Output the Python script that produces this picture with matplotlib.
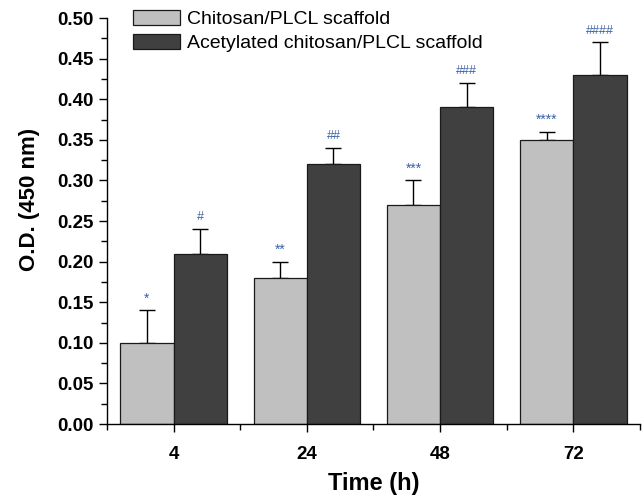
import numpy as np
import matplotlib
matplotlib.use("Agg")
import matplotlib.pyplot as plt
from matplotlib.ticker import MultipleLocator, FormatStrFormatter

# data
times = ["4", "24", "48", "72"]
chitosan = [0.10, 0.18, 0.27, 0.35]
chitosan_err = [0.04, 0.02, 0.03, 0.01]
acetylated = [0.21, 0.32, 0.39, 0.43]
acetylated_err = [0.03, 0.02, 0.03, 0.04]
chitosan_marks = ["*", "**", "***", "****"]
acetylated_marks = ["#", "##", "###", "####"]

fam = ["Liberation Sans", "DejaVu Sans"]

fig = plt.figure(figsize=(6.42, 4.96), dpi=100)
ax = fig.add_axes([0.1667, 0.145, 0.83, 0.8187])

x = np.arange(len(times))
w = 0.4
ax.bar(x - w / 2, chitosan, w, color="#c0c0c0", edgecolor="#1a1a1a", linewidth=0.9,
       label="Chitosan/PLCL scaffold", zorder=2)
ax.bar(x + w / 2, acetylated, w, color="#404040", edgecolor="#1a1a1a", linewidth=0.9,
       label="Acetylated chitosan/PLCL scaffold", zorder=2)
ax.errorbar(x - w / 2, chitosan, yerr=[np.zeros(4), chitosan_err], fmt="none",
            ecolor="black", elinewidth=1, capsize=6, capthick=1, zorder=1)
ax.errorbar(x + w / 2, acetylated, yerr=[np.zeros(4), acetylated_err], fmt="none",
            ecolor="black", elinewidth=1, capsize=6, capthick=1, zorder=1)

for i in range(len(times)):
    ax.text(x[i] - w / 2, chitosan[i] + chitosan_err[i] + 0.006, chitosan_marks[i],
            ha="center", va="bottom", fontsize=10, color="#3a62a8", family=fam)
    ax.text(x[i] + w / 2, acetylated[i] + acetylated_err[i] + 0.007, acetylated_marks[i],
            ha="center", va="bottom", fontsize=9, color="#3a62a8", family=fam)

ax.set_xlim(-0.5, 3.5)
ax.set_ylim(0, 0.5)
ax.set_xticks(x)
ax.set_xticklabels(times)
ax.xaxis.set_minor_locator(MultipleLocator(1, offset=0.5))
ax.yaxis.set_major_locator(MultipleLocator(0.05))
ax.yaxis.set_minor_locator(MultipleLocator(0.025))
ax.yaxis.set_major_formatter(FormatStrFormatter("%.2f"))

for s in ["top", "right"]:
    ax.spines[s].set_visible(False)
ax.spines["left"].set_linewidth(1.0)
ax.spines["bottom"].set_linewidth(1.0)
ax.tick_params(which="major", direction="out", length=6, width=1)
ax.tick_params(which="minor", direction="out", length=4, width=1)
ax.tick_params(axis="x", pad=10)

for lab in ax.get_xticklabels() + ax.get_yticklabels():
    lab.set_family(fam)
    lab.set_fontweight("bold")
    lab.set_fontsize(13.5)

ax.set_xlabel("Time (h)", family=fam, fontweight="bold", fontsize=17, labelpad=6)
ax.set_ylabel("O.D. (450 nm)", family=fam, fontweight="bold", fontsize=16)
ax.yaxis.set_label_coords(-0.125, 0.552)

ax.legend(loc="upper left", bbox_to_anchor=(0.035, 1.04), frameon=False,
          prop={"family": fam, "size": 14}, handlelength=2.4, handleheight=0.82,
          handletextpad=0.35, labelspacing=0.3, borderaxespad=0)

fig.savefig("out.png", dpi=100)
